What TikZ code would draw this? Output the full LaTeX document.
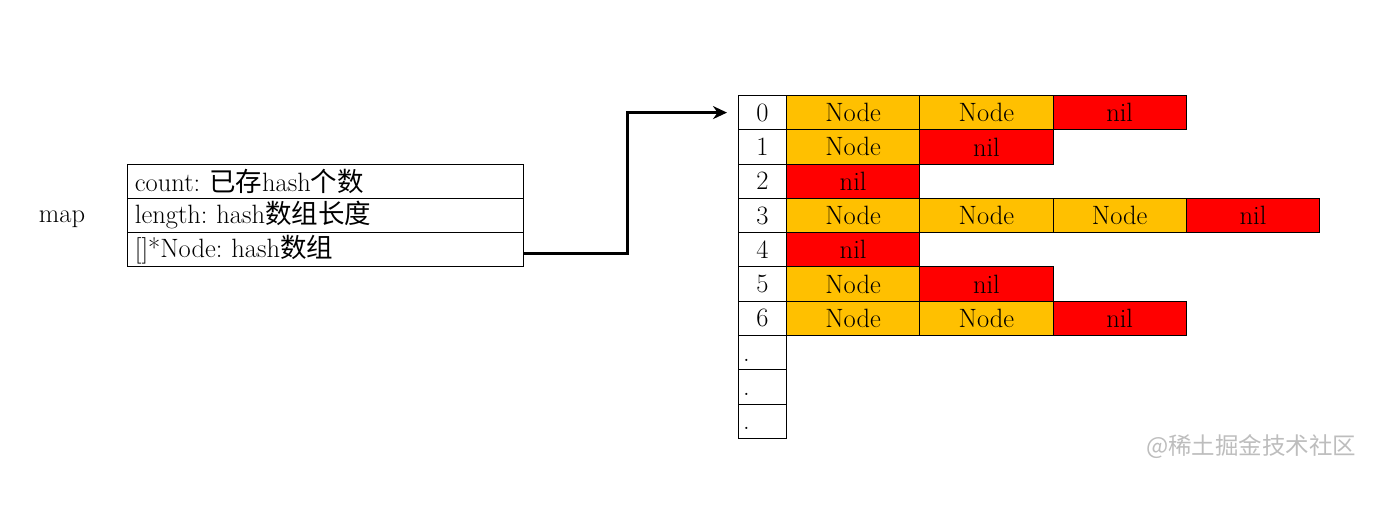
\documentclass[tikz,border=0pt]{standalone}
\usepackage{fontspec}
\newfontfamily\cjk{Noto Sans CJK SC}
\usetikzlibrary{arrows.meta}
\definecolor{nodeor}{HTML}{FFC000}
\definecolor{nilred}{HTML}{FF0000}
\definecolor{wm}{HTML}{BDBDBD}
\frenchspacing
\tikzset{
  big/.style={font=\fontsize{26.5}{28}\selectfont},
  field/.style={draw, line width=0.9pt, anchor=north west, minimum height=34pt, text width=381pt, inner xsep=7.5pt, inner ysep=0pt, align=left, big},
  idx/.style={draw, line width=0.9pt, anchor=north west, minimum width=48pt, minimum height=34.3pt, inner sep=0pt, big},
  cellbox/.style={draw, line width=0.9pt, anchor=north west, minimum width=133.3pt, minimum height=34.3pt, inner sep=0pt, big},
  nd/.style={cellbox, fill=nodeor},
  nl/.style={cellbox, fill=nilred},
  link/.style={line width=3pt, -{Stealth[length=14pt,width=13pt]}, shorten >=11pt}
}
\begin{document}
\begin{tikzpicture}[x=1pt, y=-1pt]
\useasboundingbox (0,0) rectangle (1382,505);
% struct
\node[big] (map) at (62,219) {map};
\node[field] (f1) at (127,164) {count: {\cjk 已存}hash{\cjk 个数}};
\node[field] (f2) at (127,198) {length: hash{\cjk 数组长度}};
\node[field] (f3) at (127,232) {[]*Node: hash{\cjk 数组}};
% index column
\foreach \i/\t in {0/0,1/1,2/2,3/3,4/4,5/5,6/6}{
  \node[idx] (i\i) at (738,95+34.3*\i) {\t};
}
\foreach \i in {7,8,9}{
  \node[idx] (i\i) at (738,95+34.3*\i) {};
  \node[big, anchor=base west, inner sep=0pt] (d\i) at ([xshift=5pt,yshift=9pt]i\i.south west) {.};
}
% row 0
\node[nd] (c00) at (786,95) {Node};
\node[nd] (c01) at (919.3,95) {Node};
\node[nl] (c02) at (1052.6,95) {nil};
% row 1
\node[nd] (c10) at (786,129.3) {Node};
\node[nl] (c11) at (919.3,129.3) {nil};
% row 2
\node[nl] (c20) at (786,163.6) {nil};
% row 3
\node[nd] (c30) at (786,197.9) {Node};
\node[nd] (c31) at (919.3,197.9) {Node};
\node[nd] (c32) at (1052.6,197.9) {Node};
\node[nl] (c33) at (1185.9,197.9) {nil};
% row 4
\node[nl] (c40) at (786,232.2) {nil};
% row 5
\node[nd] (c50) at (786,266.5) {Node};
\node[nl] (c51) at (919.3,266.5) {nil};
% row 6
\node[nd] (c60) at (786,300.8) {Node};
\node[nd] (c61) at (919.3,300.8) {Node};
\node[nl] (c62) at (1052.6,300.8) {nil};
% arrow
\draw[link] ([yshift=-4pt]f3.east) -- ++(104,0) |- (i0.west);
% watermark
\node[font=\cjk\fontsize{23.5}{25}\selectfont, text=wm, anchor=east] (wmk) at (1360,447) {@稀土掘金技术社区};
\end{tikzpicture}
\end{document}
